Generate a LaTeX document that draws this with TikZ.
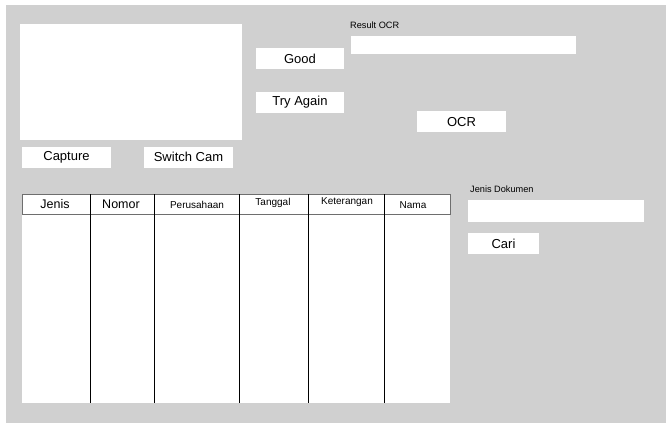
\documentclass[tikz,border=0pt]{standalone}
\usepackage{fontspec}
\setmainfont{Liberation Sans}
\definecolor{bggray}{RGB}{208,208,208}
\definecolor{hdrline}{RGB}{110,110,110}
\begin{document}
\begin{tikzpicture}[x=1pt,y=-1pt,
  box/.style={fill=white,draw=none,anchor=north west,inner sep=0pt,outer sep=0pt},
  btntext/.style={font=\fontsize{13}{13}\selectfont,inner sep=0pt},
  hdr/.style={font=\fontsize{10}{10}\selectfont,inner sep=0pt},
  hdrbig/.style={font=\fontsize{12.5}{12.5}\selectfont,inner sep=0pt},
  small/.style={font=\fontsize{9.2}{9.2}\selectfont,inner sep=0pt,anchor=west},
  colline/.style={draw=black,line width=0.9pt}]
\useasboundingbox (0,0) rectangle (666,423);
\fill[white] (0,0) rectangle (666,423);
\fill[bggray] (6,5) rectangle (666,423);
% camera preview
\node[box,minimum width=222,minimum height=116] (cam) at (20,24) {};
% buttons
\node[box,minimum width=88,minimum height=21] (good) at (256,48) {};
\node[btntext] at (good.center) {Good};
\node[box,minimum width=88,minimum height=21] (try) at (256,92) {};
\node[btntext] at (try.center) {Try Again};
\node[box,minimum width=89,minimum height=21] (cap) at (22,147) {};
\node[btntext] at (cap.center) {Capture};
\node[box,minimum width=89,minimum height=21] (sw) at (144,147) {};
\node[btntext] at ([yshift=1]sw.center) {Switch Cam};
\node[box,minimum width=89,minimum height=21] (ocr) at (417,111) {};
\node[btntext] at ([yshift=-1]ocr.center) {OCR};
\node[box,minimum width=71,minimum height=21] (cari) at (468,233) {};
\node[btntext] at (cari.center) {Cari};
% result OCR
\node[small] (reslbl) at (350,25) {Result OCR};
\node[box,minimum width=225,minimum height=18] (res) at (351,36) {};
% jenis dokumen
\node[small] (jdlbl) at (470,189) {Jenis Dokumen};
\node[box,minimum width=176,minimum height=22] (jd) at (468,200) {};
% table
\node[box,minimum width=428,minimum height=209] (tbl) at (22,194) {};
\draw[hdrline,line width=0.8pt] (22,194) rectangle (450,214);
\coordinate (c1t) at (90,194); \coordinate (c1b) at (90,403);
\coordinate (c2t) at (154,194); \coordinate (c2b) at (154,403);
\coordinate (c3t) at (239,194); \coordinate (c3b) at (239,403);
\coordinate (c4t) at (308,194); \coordinate (c4b) at (308,403);
\coordinate (c5t) at (384,194); \coordinate (c5b) at (384,403);
\draw[colline] (c1t) -- (c1b);
\draw[colline] (c2t) -- (c2b);
\draw[colline] (c3t) -- (c3b);
\draw[colline] (c4t) -- (c4b);
\draw[colline] (c5t) -- (c5b);
\node[hdrbig] (h1) at (55,204) {Jenis};
\node[hdrbig] (h2) at (121,204) {Nomor};
\node[hdr] (h3) at (197,205) {Perusahaan};
\node[hdr] (h4) at (273,202.5) {Tanggal};
\node[hdr] (h5) at (347,202.5) {Keterangan};
\node[hdr] (h6) at (413,205) {Nama};
\end{tikzpicture}
\end{document}
